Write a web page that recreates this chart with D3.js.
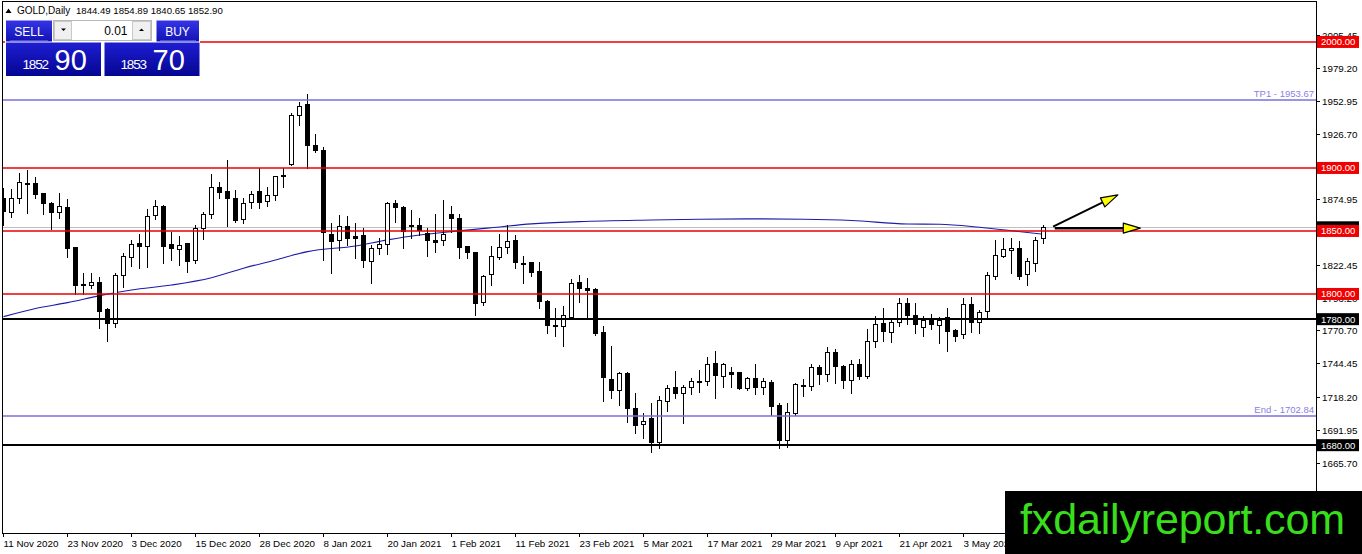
<!DOCTYPE html>
<html>
<head>
<meta charset="utf-8">
<script src="https://cdn.jsdelivr.net/npm/d3@7"></script>
<style>
body { margin: 0; background: #fff; overflow: hidden; }
svg text { font-family: "Liberation Sans", Arial, sans-serif; }
</style>
</head>
<body>
<svg class="chart" width="1362" height="554"></svg>
<script>
"use strict";

// GOLD daily, one bar per trading day from 11 Nov 2020
var opens = [1875.9, 1864.8, 1875.9, 1888.0, 1887.8, 1879.4, 1872.0, 1864.8, 1868.8, 1836.8,
    1807.5, 1806.6, 1809.2, 1787.3, 1775.9, 1814.3, 1829.1, 1840.2, 1837.6, 1861.9,
    1869.8, 1838.9, 1835.4, 1840.2, 1826.4, 1852.1, 1863.2, 1884.6, 1881.2, 1875.9,
    1859.5, 1871.9, 1881.7, 1872.7, 1877.8, 1893.9, 1902.9, 1941.5, 1950.0, 1917.7,
    1913.5, 1847.3, 1842.8, 1853.9, 1845.5, 1846.0, 1826.2, 1836.2, 1839.4, 1871.4,
    1868.8, 1854.5, 1854.2, 1848.1, 1842.8, 1842.0, 1862.7, 1859.5, 1837.6, 1833.1,
    1792.6, 1815.1, 1829.1, 1837.0, 1842.1, 1824.5, 1824.9, 1817.7, 1793.9, 1775.3,
    1774.6, 1781.2, 1809.0, 1804.5, 1803.9, 1769.6, 1732.3, 1723.8, 1737.0, 1709.2,
    1696.0, 1701.3, 1681.5, 1715.1, 1725.6, 1721.2, 1725.9, 1730.2, 1730.4, 1745.0,
    1734.4, 1737.8, 1737.8, 1725.1, 1733.1, 1725.6, 1729.9, 1711.1, 1683.6, 1705.3,
    1727.0, 1726.4, 1741.5, 1736.2, 1753.7, 1742.3, 1731.2, 1744.2, 1734.4, 1762.2,
    1776.7, 1769.6, 1777.5, 1792.6, 1783.3, 1774.1, 1779.3, 1774.8, 1781.2, 1771.4,
    1768.0, 1791.8, 1777.5, 1785.4, 1813.7, 1829.6, 1834.4, 1836.2, 1815.1, 1824.9,
    1844.49];
var highs = [1883.9, 1883.1, 1896.3, 1898.4, 1892.6, 1879.9, 1873.3, 1879.9, 1875.1, 1837.6,
    1816.9, 1816.9, 1813.2, 1788.6, 1816.9, 1832.3, 1842.9, 1847.3, 1867.2, 1874.6,
    1870.6, 1849.5, 1846.3, 1840.5, 1854.7, 1865.3, 1895.0, 1888.6, 1906.3, 1882.5,
    1875.9, 1881.7, 1899.7, 1885.2, 1893.9, 1899.7, 1943.4, 1952.6, 1958.5, 1926.7,
    1916.9, 1856.1, 1862.7, 1862.2, 1856.1, 1852.6, 1838.9, 1844.2, 1873.3, 1874.6,
    1870.1, 1866.7, 1860.6, 1852.1, 1863.2, 1874.6, 1870.1, 1863.2, 1838.4, 1833.6,
    1815.1, 1838.1, 1847.6, 1854.8, 1846.8, 1830.2, 1825.7, 1825.7, 1795.2, 1788.6,
    1790.5, 1811.6, 1815.1, 1812.4, 1804.5, 1774.6, 1758.7, 1738.3, 1738.3, 1721.7,
    1705.8, 1713.2, 1719.1, 1727.8, 1738.9, 1727.8, 1733.6, 1739.7, 1750.3, 1754.8,
    1745.0, 1741.8, 1738.0, 1734.4, 1744.2, 1733.1, 1731.7, 1713.8, 1713.8, 1729.1,
    1732.3, 1744.4, 1743.6, 1758.2, 1756.1, 1743.6, 1747.6, 1748.1, 1771.9, 1782.5,
    1788.6, 1779.4, 1796.6, 1796.6, 1792.6, 1782.5, 1784.1, 1781.5, 1788.6, 1771.9,
    1797.1, 1797.3, 1787.3, 1817.7, 1842.8, 1844.2, 1844.2, 1842.3, 1828.3, 1845.5,
    1854.89];
var lows = [1854.8, 1861.4, 1872.5, 1864.0, 1875.9, 1863.2, 1851.3, 1860.0, 1829.6, 1800.0,
    1800.0, 1804.5, 1772.7, 1762.9, 1774.1, 1805.8, 1822.2, 1820.4, 1821.2, 1859.3,
    1824.3, 1827.0, 1823.0, 1817.7, 1824.3, 1843.6, 1860.6, 1876.4, 1854.2, 1857.4,
    1856.1, 1868.5, 1868.5, 1870.1, 1874.6, 1884.6, 1902.4, 1934.1, 1899.7, 1913.0,
    1827.0, 1816.4, 1834.9, 1838.9, 1828.3, 1821.7, 1808.4, 1831.5, 1831.5, 1857.4,
    1836.2, 1844.7, 1846.8, 1830.4, 1833.1, 1838.9, 1849.5, 1828.3, 1828.3, 1783.3,
    1791.3, 1807.1, 1827.5, 1832.8, 1820.4, 1809.0, 1814.3, 1788.6, 1768.8, 1766.7,
    1758.7, 1779.9, 1793.9, 1782.0, 1767.5, 1715.3, 1717.2, 1711.9, 1698.7, 1689.4,
    1685.4, 1674.9, 1677.5, 1707.1, 1717.2, 1697.3, 1720.4, 1722.5, 1727.8, 1717.7,
    1726.4, 1726.4, 1724.6, 1723.8, 1720.4, 1720.4, 1703.9, 1677.5, 1678.8, 1704.0,
    1719.0, 1723.8, 1728.5, 1731.2, 1729.6, 1725.1, 1721.7, 1732.3, 1733.0, 1758.2,
    1763.0, 1762.2, 1774.6, 1776.2, 1768.8, 1766.7, 1771.9, 1761.4, 1755.0, 1763.0,
    1764.8, 1770.1, 1768.8, 1780.7, 1811.6, 1829.1, 1816.9, 1811.6, 1807.1, 1818.5,
    1840.65];
var closes = [1865.3, 1875.9, 1888.6, 1887.6, 1879.1, 1871.2, 1864.8, 1869.8, 1836.2, 1806.3,
    1806.5, 1809.2, 1786.0, 1775.9, 1814.3, 1829.6, 1839.4, 1837.6, 1861.4, 1869.3,
    1838.4, 1835.4, 1838.3, 1825.6, 1851.6, 1863.2, 1884.6, 1880.7, 1875.9, 1858.7,
    1871.9, 1878.6, 1872.7, 1877.8, 1893.1, 1893.1, 1941.5, 1948.7, 1917.7, 1913.5,
    1848.1, 1842.0, 1853.9, 1844.2, 1844.2, 1826.2, 1836.2, 1839.4, 1871.9, 1868.5,
    1849.5, 1854.0, 1850.0, 1842.3, 1841.5, 1846.8, 1859.3, 1836.8, 1832.8, 1792.6,
    1813.5, 1829.6, 1837.0, 1841.5, 1824.3, 1824.0, 1817.2, 1793.9, 1774.6, 1774.9,
    1783.3, 1808.5, 1804.5, 1803.2, 1768.8, 1733.8, 1723.8, 1737.0, 1709.2, 1696.0,
    1698.7, 1682.3, 1715.1, 1725.1, 1721.2, 1725.9, 1730.9, 1730.6, 1744.2, 1735.2,
    1744.2, 1736.5, 1725.1, 1733.1, 1725.6, 1730.4, 1710.6, 1683.5, 1705.8, 1728.3,
    1727.4, 1741.5, 1736.2, 1753.7, 1742.3, 1731.2, 1744.2, 1734.4, 1762.2, 1775.4,
    1770.1, 1777.5, 1792.6, 1783.3, 1776.0, 1779.3, 1775.9, 1778.8, 1770.1, 1766.9,
    1791.8, 1777.5, 1785.4, 1814.3, 1830.2, 1834.9, 1836.2, 1813.7, 1825.6, 1842.8,
    1852.90];

var tickBars = [0, 8, 16, 24, 32, 40, 48, 56, 64, 72, 80, 88, 96, 104, 112, 120];
var tickDates = ["11 Nov 2020", "23 Nov 2020", "3 Dec 2020", "15 Dec 2020", "28 Dec 2020",
    "8 Jan 2021", "20 Jan 2021", "1 Feb 2021", "11 Feb 2021", "23 Feb 2021", "5 Mar 2021",
    "17 Mar 2021", "29 Mar 2021", "9 Apr 2021", "21 Apr 2021", "3 May 2021"];
var priceTicks = [2005.45, 1979.20, 1952.95, 1926.70, 1874.95, 1848.70, 1822.45,
    1796.20, 1770.70, 1744.45, 1718.20, 1691.95, 1665.70];

// moving average, read at a few bars
var maBars = [0, 4, 8, 12, 16, 21, 26, 30, 34, 38, 44, 48, 52, 56, 61, 66, 72, 81, 87, 93,
    100, 106, 113, 117, 122, 126, 130];
var maValues = [1782.0, 1788.5, 1793.1, 1798.7, 1803.2, 1807.1, 1812.9, 1820.4, 1827.0, 1833.6,
    1838.1, 1842.9, 1846.8, 1849.5, 1852.6, 1855.6, 1857.4, 1858.7, 1859.3, 1859.6,
    1859.3, 1858.3, 1855.5, 1855.3, 1852.9, 1850.2, 1847.4];

var levelPrices = [2000, 1900, 1850, 1800, 1780, 1680];
var levelColors = ["red", "red", "red", "red", "black", "black"];
var targetPrices = [1953.67, 1702.84];
var targetNames = ["TP1", "End"];
var bidPrice = 1852.90;
var askPrice = 1853.70;
var symbolName = "GOLD,Daily";

// arrows drawn on the chart: [bar, price] start and end
var arrowStarts = [[131.2, 1853.5], [131.4, 1852.2]];
var arrowEnds = [[139.3, 1878.6], [142.1, 1852.2]];

var svg = d3.select("svg.chart");
var plotLeft = 2, plotTop = 1, plotRight = 1316, plotBottom = 533;

var x = d3.scaleLinear().domain([0, 130]).range([3.5, 1043.5]);
var y = d3.scaleLinear().domain([1610.3, 2031.7]).range([533, 2]);

function snap(v) { return Math.round(v - 0.5) + 0.5; }

svg.append("defs").append("clipPath").attr("id", "plot-clip")
    .append("rect").attr("x", plotLeft).attr("y", plotTop)
    .attr("width", plotRight - plotLeft).attr("height", plotBottom - plotTop);

var g = svg.append("g").attr("clip-path", "url(#plot-clip)");

// bid line
g.append("line").attr("x1", plotLeft).attr("x2", plotRight)
    .attr("y1", snap(y(bidPrice))).attr("y2", snap(y(bidPrice)))
    .attr("stroke", "#c0c0c0").attr("stroke-width", 1);

// moving average
var maLine = d3.line().curve(d3.curveMonotoneX)
    .x(function (d) { return x(d[0]); })
    .y(function (d) { return y(d[1]); });
g.append("path").datum(d3.zip(maBars, maValues)).attr("d", maLine)
    .attr("fill", "none").attr("stroke", "#1c1caa").attr("stroke-width", 1.1);

// candles
var bars = d3.range(opens.length);
var candle = g.selectAll(".candle").data(bars).enter().append("g").attr("class", "candle");

candle.append("line")
    .attr("x1", function (i) { return x(i); }).attr("x2", function (i) { return x(i); })
    .attr("y1", function (i) { return Math.round(y(highs[i])); })
    .attr("y2", function (i) { return Math.round(y(lows[i])) + 1; })
    .attr("stroke", "#000").attr("stroke-width", 1);

candle.append("rect")
    .attr("x", function (i) { return x(i) - 2; })
    .attr("y", function (i) { return snap(y(Math.max(opens[i], closes[i]))); })
    .attr("width", 4)
    .attr("height", function (i) {
        return Math.max(0.01, Math.round(y(Math.min(opens[i], closes[i])) - y(Math.max(opens[i], closes[i]))));
    })
    .attr("fill", function (i) { return closes[i] >= opens[i] ? "#fff" : "#000"; })
    .attr("stroke", "#000").attr("stroke-width", 1);

// horizontal levels
levelPrices.forEach(function (p, k) {
    var black = levelColors[k] === "black";
    var yy = Math.round(y(p));
    g.append("line").attr("x1", plotLeft).attr("x2", plotRight).attr("y1", yy).attr("y2", yy)
        .attr("stroke", black ? "#000" : "#e80000")
        .attr("stroke-width", black ? 2 : 1.3);
});

targetPrices.forEach(function (p, k) {
    var yy = Math.round(y(p));
    g.append("line").attr("x1", plotLeft).attr("x2", plotRight).attr("y1", yy).attr("y2", yy)
        .attr("stroke", "#7a70dc").attr("stroke-width", 1.6);
    g.append("text").attr("x", 1314).attr("y", yy - 3).attr("text-anchor", "end")
        .attr("font-size", 9.5).attr("fill", "#8a80e6")
        .text(targetNames[k] + " - " + p.toFixed(2));
});

// arrows
arrowStarts.forEach(function (s, k) {
    var x0 = x(s[0]), y0 = y(s[1]), x1 = x(arrowEnds[k][0]), y1 = y(arrowEnds[k][1]);
    var ang = Math.atan2(y1 - y0, x1 - x0);
    var len = 17, half = 5;
    var bx = x1 - len * Math.cos(ang), by = y1 - len * Math.sin(ang);
    g.append("line").attr("x1", x0).attr("y1", y0).attr("x2", bx).attr("y2", by)
        .attr("stroke", "#000").attr("stroke-width", k === 0 ? 2 : 2.6);
    var pts = [[x1, y1],
        [bx - half * Math.sin(ang), by + half * Math.cos(ang)],
        [bx + half * Math.sin(ang), by - half * Math.cos(ang)]];
    g.append("polygon").attr("points", pts.map(function (p) { return p.join(","); }).join(" "))
        .attr("fill", "#ffff00").attr("stroke", "#000").attr("stroke-width", 1.2)
        .attr("stroke-linejoin", "round");
});

// frame
svg.append("rect").attr("x", plotLeft + 0.5).attr("y", plotTop + 0.5)
    .attr("width", plotRight - plotLeft).attr("height", plotBottom - plotTop)
    .attr("fill", "none").attr("stroke", "#000").attr("stroke-width", 1);

// time axis
var timeAxis = svg.append("g").attr("class", "axis axis--x");
tickBars.forEach(function (b, k) {
    var xx = snap(x(b));
    timeAxis.append("line").attr("x1", xx).attr("x2", xx).attr("y1", plotBottom).attr("y2", plotBottom + 4)
        .attr("stroke", "#000");
    timeAxis.append("text").attr("x", xx).attr("y", plotBottom + 14)
        .attr("font-size", 9.8).attr("fill", "#000").text(tickDates[k]);
});

// price axis
var priceAxis = svg.append("g").attr("class", "axis axis--y");
priceTicks.forEach(function (p) {
    var yy = snap(y(p));
    priceAxis.append("line").attr("x1", plotRight).attr("x2", plotRight + 4).attr("y1", yy).attr("y2", yy)
        .attr("stroke", "#000");
    priceAxis.append("text").attr("x", plotRight + 6).attr("y", yy + 3.5)
        .attr("font-size", 9.8).attr("fill", "#000").text(p.toFixed(2));
});

function priceBox(p, fill) {
    priceAxis.append("rect").attr("x", plotRight + 1).attr("y", y(p) - 6).attr("width", 42).attr("height", 12)
        .attr("fill", fill);
}
function priceLabel(p, fill) {
    priceBox(p, fill);
    priceAxis.append("text").attr("x", plotRight + 5).attr("y", y(p) + 3.5)
        .attr("font-size", 9.5).attr("fill", "#fff").text(p.toFixed(2));
}
// current price box sits under the 1850.00 label
priceBox(bidPrice, "#000");
levelPrices.forEach(function (p, k) {
    priceLabel(p, levelColors[k] === "black" ? "#000" : "#f00000");
});

// header line
var head = svg.append("g");
head.append("polygon").attr("points", "5.5,13 8.5,8.5 11.5,13").attr("fill", "#000");
head.append("text").attr("x", 17).attr("y", 14).attr("font-size", 10).text(symbolName);
head.append("text").attr("x", 76).attr("y", 14).attr("font-size", 9.6)
    .text([opens[130], highs[130], lows[130], closes[130]].map(function (v) { return v.toFixed(2); }).join(" "));

// one click trading panel
var defs = svg.select("defs");
var btnGrad = defs.append("linearGradient").attr("id", "btn-grad").attr("x1", 0).attr("y1", 0).attr("x2", 0).attr("y2", 1);
btnGrad.append("stop").attr("offset", "0%").attr("stop-color", "#3535e6");
btnGrad.append("stop").attr("offset", "100%").attr("stop-color", "#1212b4");
var boxGrad = defs.append("linearGradient").attr("id", "box-grad").attr("x1", 0).attr("y1", 0).attr("x2", 0).attr("y2", 1);
boxGrad.append("stop").attr("offset", "0%").attr("stop-color", "#1e1ed2");
boxGrad.append("stop").attr("offset", "100%").attr("stop-color", "#050592");

var panel = svg.append("g");
panel.append("rect").attr("x", 5).attr("y", 19).attr("width", 195).attr("height", 58).attr("fill", "#fff");
panel.append("rect").attr("x", 6).attr("y", 20.5).attr("width", 46).attr("height", 21).attr("fill", "url(#btn-grad)");
panel.append("rect").attr("x", 156.5).attr("y", 20.5).attr("width", 42.5).attr("height", 21).attr("fill", "url(#btn-grad)");
panel.append("line").attr("x1", 10).attr("x2", 48).attr("y1", 41).attr("y2", 41).attr("stroke", "#8a8af0");
panel.append("line").attr("x1", 160).attr("x2", 196).attr("y1", 41).attr("y2", 41).attr("stroke", "#8a8af0");
panel.append("text").attr("x", 29).attr("y", 35.5).attr("text-anchor", "middle")
    .attr("font-size", 12).attr("fill", "#fff").text("SELL");
panel.append("text").attr("x", 177.5).attr("y", 35.5).attr("text-anchor", "middle")
    .attr("font-size", 12).attr("fill", "#fff").text("BUY");

panel.append("rect").attr("x", 53.5).attr("y", 20.5).attr("width", 98).attr("height", 20)
    .attr("fill", "#fff").attr("stroke", "#b8b8b8");
panel.append("rect").attr("x", 54.5).attr("y", 21.5).attr("width", 17).attr("height", 18)
    .attr("fill", "#f0f0f0").attr("stroke", "#c8c8c8");
panel.append("rect").attr("x", 132.5).attr("y", 21.5).attr("width", 18).attr("height", 18)
    .attr("fill", "#f0f0f0").attr("stroke", "#c8c8c8");
panel.append("polygon").attr("points", "61,28.5 66,28.5 63.5,31").attr("fill", "#000");
panel.append("polygon").attr("points", "139,31 144,31 141.5,28.5").attr("fill", "#000");
panel.append("text").attr("x", 127.5).attr("y", 35).attr("text-anchor", "end")
    .attr("font-size", 12).attr("fill", "#000").text("0.01");

panel.append("rect").attr("x", 6).attr("y", 42.5).attr("width", 95).attr("height", 33.5).attr("fill", "url(#box-grad)");
panel.append("rect").attr("x", 104.5).attr("y", 42.5).attr("width", 95).attr("height", 33.5).attr("fill", "url(#box-grad)");

function quote(price, x0) {
    var s = price.toFixed(2);
    var big = s.slice(0, 4), small = s.slice(5, 7);
    panel.append("text").attr("x", x0).attr("y", 68.5).attr("font-size", 13.5)
        .attr("textLength", 26.5).attr("fill", "#fff").text(big);
    panel.append("text").attr("x", x0 + 32).attr("y", 69.5).attr("font-size", 29)
        .attr("fill", "#fff").text(small);
}
quote(bidPrice, 22.5);
quote(askPrice, 120.5);

// watermark
svg.append("rect").attr("x", 1005).attr("y", 491).attr("width", 357).attr("height", 63).attr("fill", "#000");
svg.append("text").attr("x", 1020).attr("y", 534).attr("font-size", 43).attr("textLength", 325)
    .attr("fill", "#38de1c").text("fxdailyreport.com");
</script>
</body>
</html>
